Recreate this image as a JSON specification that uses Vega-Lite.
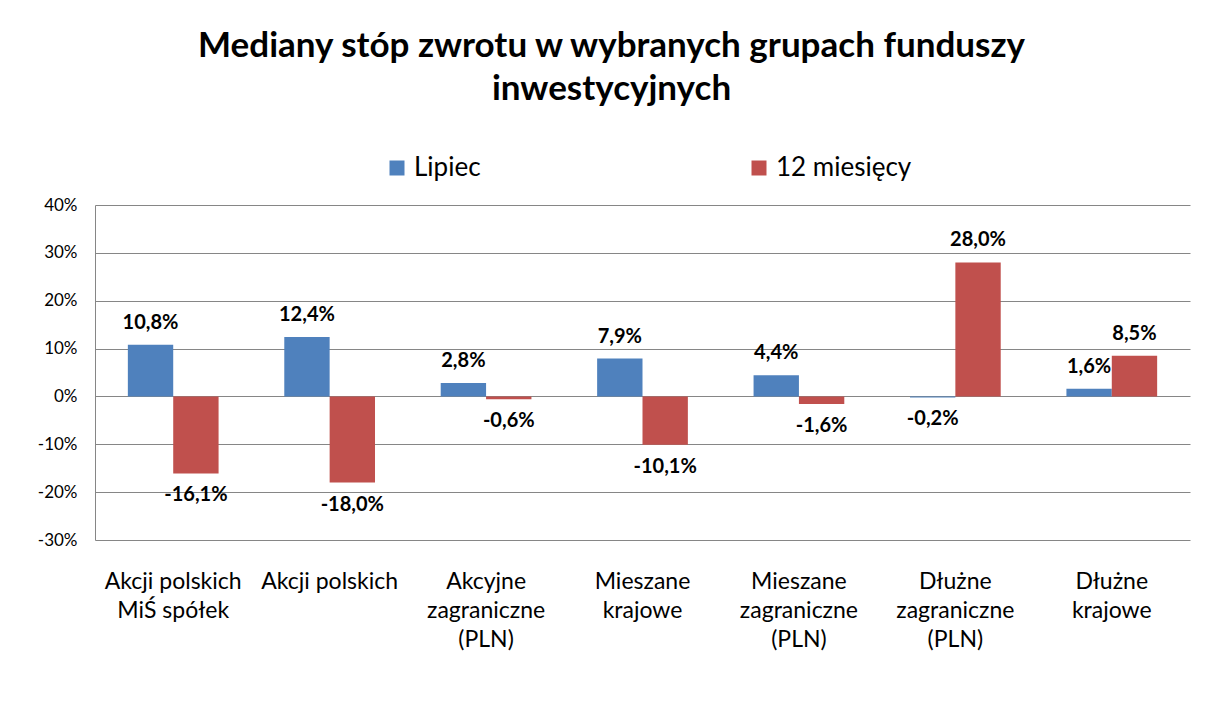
{
  "$schema": "https://vega.github.io/schema/vega-lite/v6.json",
  "width": 1095,
  "height": 335,
  "autosize": {"type": "none"},
  "padding": {"left": 95, "top": 205, "right": 32, "bottom": 166},
  "background": "white",
  "config": {
    "locale": {"number": {"decimal": ",", "thousands": " ", "grouping": [3], "currency": ["", " zł"], "minus": "-"}},
    "view": {"stroke": null},
    "font": "Lato"
  },
  "title": {
    "text": ["Mediany stóp zwrotu w wybranych grupach funduszy", "inwestycyjnych"],
    "fontSize": 35,
    "fontWeight": "bold",
    "font": "Lato",
    "color": "#000000",
    "anchor": "middle",
    "dx": -31,
    "offset": 48,
    "lineHeight": 43
  },
  "data": {
    "values": [
      {"kat": "Akcji polskich|MiŚ spółek", "seria": "Lipiec", "v": 0.108},
      {"kat": "Akcji polskich|MiŚ spółek", "seria": "12 miesięcy", "v": -0.161},
      {"kat": "Akcji polskich", "seria": "Lipiec", "v": 0.124},
      {"kat": "Akcji polskich", "seria": "12 miesięcy", "v": -0.18},
      {"kat": "Akcyjne|zagraniczne|(PLN)", "seria": "Lipiec", "v": 0.028},
      {"kat": "Akcyjne|zagraniczne|(PLN)", "seria": "12 miesięcy", "v": -0.006},
      {"kat": "Mieszane|krajowe", "seria": "Lipiec", "v": 0.079},
      {"kat": "Mieszane|krajowe", "seria": "12 miesięcy", "v": -0.101},
      {"kat": "Mieszane|zagraniczne|(PLN)", "seria": "Lipiec", "v": 0.044},
      {"kat": "Mieszane|zagraniczne|(PLN)", "seria": "12 miesięcy", "v": -0.016},
      {"kat": "Dłużne|zagraniczne|(PLN)", "seria": "Lipiec", "v": -0.002},
      {"kat": "Dłużne|zagraniczne|(PLN)", "seria": "12 miesięcy", "v": 0.28},
      {"kat": "Dłużne|krajowe", "seria": "Lipiec", "v": 0.016},
      {"kat": "Dłużne|krajowe", "seria": "12 miesięcy", "v": 0.085}
    ]
  },
  "encoding": {
    "x": {
      "field": "kat",
      "type": "nominal",
      "sort": null,
      "scale": {"paddingInner": 0.42, "paddingOuter": 0.21},
      "axis": {
        "title": null,
        "labelAngle": 0,
        "labelExpr": "split(datum.label, '|')",
        "labelFontSize": 23,
        "labelLineHeight": 29,
        "labelColor": "#000000",
        "labelPadding": 30,
        "labelLimit": 0,
        "labelFont": "Lato",
        "ticks": false,
        "domain": false
      }
    },
    "xOffset": {"field": "seria", "type": "nominal", "sort": ["Lipiec", "12 miesięcy"], "scale": {"paddingInner": 0, "paddingOuter": 0}},
    "y": {
      "field": "v",
      "type": "quantitative",
      "scale": {"domain": [-0.3, 0.4], "nice": false, "zero": false},
      "axis": {
        "title": null,
        "values": [-0.3, -0.2, -0.1, 0, 0.1, 0.2, 0.3, 0.4],
        "format": ".0%",
        "labelFontSize": 17,
        "labelColor": "#000000",
        "labelPadding": 18,
        "labelFont": "Lato",
        "ticks": false,
        "domain": true,
        "domainColor": "#868686",
        "gridColor": "#868686",
        "gridWidth": 1,
        "domainWidth": 1
      }
    }
  },
  "layer": [
    {
      "mark": {"type": "bar"},
      "encoding": {
        "color": {
          "field": "seria",
          "type": "nominal",
          "sort": ["Lipiec", "12 miesięcy"],
          "scale": {"domain": ["Lipiec", "12 miesięcy"], "range": ["#4F81BD", "#C0504D"]},
          "legend": {
            "title": null,
            "orient": "none",
            "legendX": 289,
            "legendY": -50,
            "direction": "horizontal",
            "columns": 2,
            "columnPadding": 265,
            "symbolType": "square",
            "symbolSize": 225,
            "symbolStrokeWidth": 0,
            "labelFontSize": 26,
            "labelFont": "Lato",
            "labelColor": "#000000",
            "labelOffset": 4,
            "labelLimit": 0
          }
        }
      }
    },
    {
      "transform": [{"filter": "datum.v >= 0"}],
      "mark": {"type": "text", "dy": -22, "baseline": "middle", "fontSize": 20, "fontWeight": "bold", "font": "Lato", "color": "#000000"},
      "encoding": {"text": {"field": "v", "type": "quantitative", "format": ".1%"}}
    },
    {
      "transform": [{"filter": "datum.v < 0"}],
      "mark": {"type": "text", "dy": 22, "baseline": "middle", "fontSize": 20, "fontWeight": "bold", "font": "Lato", "color": "#000000"},
      "encoding": {"text": {"field": "v", "type": "quantitative", "format": ".1%"}}
    }
  ]
}
